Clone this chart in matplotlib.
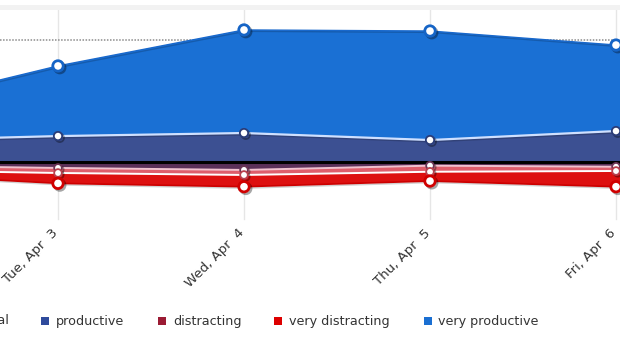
import matplotlib
matplotlib.use("Agg")
import matplotlib.pyplot as plt
from matplotlib import patheffects as pe
from matplotlib.patches import Rectangle
from matplotlib.transforms import blended_transform_factory
import numpy as np

# Hours per day, Monday through Saturday
days = ["Mon, Apr  2", "Tue, Apr  3", "Wed, Apr  4", "Thu, Apr  5", "Fri, Apr  6", "Sat, Apr  7"]
productive = [1.38, 1.70, 1.90, 1.44, 2.03, 1.95]
very_productive = [1.97, 4.60, 6.76, 7.15, 5.64, 5.40]
neutral = [0.22, 0.39, 0.52, 0.24, 0.31, 0.30]
distracting = [0.30, 0.33, 0.33, 0.40, 0.28, 0.30]
very_distracting = [0.22, 0.68, 0.77, 0.61, 1.03, 1.00]

legend_names = ["neutral", "productive", "distracting", "very distracting", "very productive"]
legend_colors = ["#9a9a9a", "#2f4b9c", "#9b1b34", "#dd0000", "#1a6fd2"]

W, H = 620, 345
fig = plt.figure(figsize=(W / 100, H / 100), dpi=100)
fig.patch.set_facecolor("white")

# light band along the top edge
fig.patches.append(Rectangle((0, (H - 10) / H), 1, 5 / H, transform=fig.transFigure,
                             facecolor="#f2f2f2", edgecolor="none", zorder=0))

top_px, bot_px = 10, 205
ax = fig.add_axes([0, (H - bot_px) / H, 1, (bot_px - top_px) / H])
ax.set_facecolor("none")
for s in ax.spines.values():
    s.set_visible(False)
ax.set_yticks([])
ax.set_xticks([])

x = np.arange(len(days))
px_per_day = 186.0
ax.set_xlim(1 - 58 / px_per_day, 4 + 4 / px_per_day)
ax.set_ylim(-(bot_px - 162) / 15.25, (162 - top_px) / 15.25)

prod = np.array(productive)
vprod = prod + np.array(very_productive)
neu = -np.array(neutral)
dis = neu - np.array(distracting)
vdis = dis - np.array(very_distracting)

# vertical grid lines with tick marks below the plot
trans = blended_transform_factory(ax.transData, ax.transAxes)
for xi in x:
    ax.plot([xi, xi], [-0.07, 1], color="#e6e6e6", lw=1, transform=trans,
            clip_on=False, zorder=0)

# dotted horizontal grid line
ax.axhline(8, color="#8c8c8c", lw=1.1, ls=(0, (1, 1)), zorder=0.5)

soft = [pe.SimpleLineShadow(offset=(1, -1), shadow_color="black", alpha=0.18), pe.Normal()]

# positive stack
ax.fill_between(x, 0, prod, color="#3c5092", lw=0, zorder=1)
ax.fill_between(x, prod, vprod, color="#1a70d4", lw=0, zorder=1)
# negative stack
ax.fill_between(x, 0, neu, color="#5b3058", lw=0, zorder=1)
ax.fill_between(x, neu, dis, color="#de5e6c", lw=0, zorder=1)
ax.fill_between(x, dis, vdis, color="#dd1010", lw=0, zorder=1)

ax.plot(x, vprod, color="#1868cc", lw=1.0, zorder=3, path_effects=soft)
ax.plot(x, prod, color="#cfe0ff", lw=1.6, zorder=3, path_effects=soft)
ax.plot(x, vdis, color="#cc0000", lw=1.2, zorder=3, path_effects=soft)
ax.plot(x, dis, color="#ffffff", lw=1.4, zorder=3)
ax.plot(x, neu, color="#efc2cf", lw=1.4, zorder=3)

ax.axhline(0, color="black", lw=2.2, zorder=4)

mk_shadow = [pe.SimpleLineShadow(offset=(1.3, -1.3), shadow_color="black", alpha=0.35), pe.Normal()]
ax.plot(x, vprod, ls="none", marker="o", ms=7.5, mfc="white", mec="#1564c6", mew=2.0,
        zorder=5, path_effects=mk_shadow)
ax.plot(x, prod, ls="none", marker="o", ms=6, mfc="white", mec="#2a3c78", mew=1.3,
        zorder=5, path_effects=mk_shadow)
ax.plot(x, neu, ls="none", marker="o", ms=5.5, mfc="white", mec="#6a3454", mew=1.3,
        zorder=5, path_effects=mk_shadow)
ax.plot(x, dis, ls="none", marker="o", ms=5.5, mfc="white", mec="#b8404e", mew=1.3,
        zorder=5, path_effects=mk_shadow)
ax.plot(x, vdis, ls="none", marker="o", ms=7.5, mfc="white", mec="#d00000", mew=2.0,
        zorder=5, path_effects=mk_shadow)

# rotated date labels
label_y = -(231 - bot_px) / (bot_px - top_px)
for xi, lab in zip(x, days):
    ax.text(xi - 2 / px_per_day, label_y, lab, transform=trans, rotation=45,
            rotation_mode="anchor", ha="right", va="center", fontsize=9.5,
            color="#333333", family="DejaVu Sans", clip_on=False)

# legend row
leg_y = 321
sq_x = [-51, 41, 158, 274, 424]
tx_x = [-36, 56, 173, 289, 438]
for name, col, sx, tx in zip(legend_names, legend_colors, sq_x, tx_x):
    fig.patches.append(Rectangle((sx / W, (H - leg_y - 4) / H), 8 / W, 8 / H,
                                 transform=fig.transFigure, facecolor=col,
                                 edgecolor="none"))
    fig.text(tx / W, (H - leg_y) / H, name, ha="left", va="center", fontsize=9.2,
             color="#333333", family="DejaVu Sans")

fig.savefig("out.png", dpi=100)
